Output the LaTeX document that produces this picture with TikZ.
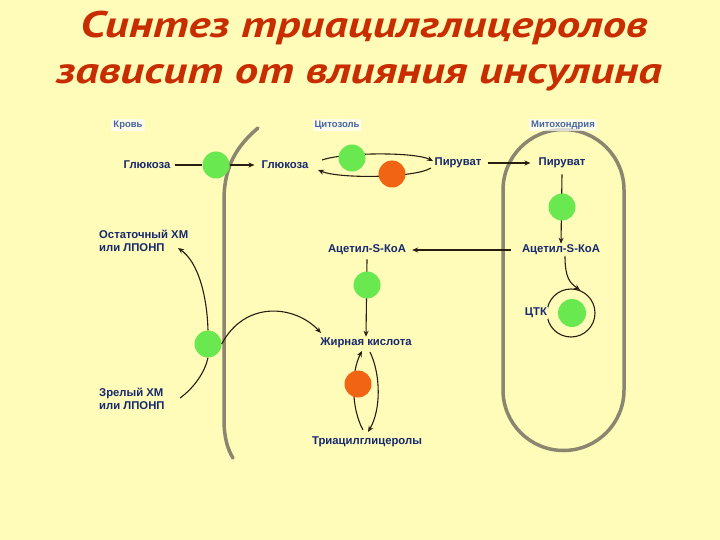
\documentclass[tikz,border=0pt]{standalone}
\usepackage{fontspec}
\setmainfont{Liberation Sans}
\newfontfamily\titlefont{PT Sans}
\usetikzlibrary{arrows.meta}
\definecolor{bg}{RGB}{255,251,184}
\definecolor{titlered}{RGB}{200,45,0}
\definecolor{navy}{RGB}{22,40,110}
\definecolor{lblue}{RGB}{70,100,160}
\definecolor{gcirc}{RGB}{105,232,80}
\definecolor{ocirc}{RGB}{240,100,20}
\definecolor{memb}{RGB}{138,134,112}
\definecolor{arrc}{RGB}{40,30,15}
\begin{document}
\begin{tikzpicture}[x=1pt,y=-1pt,
  txt/.style={font=\fontsize{11.3}{12.5}\selectfont\bfseries, text=navy, inner sep=1pt},
  lbl/.style={font=\fontsize{9.5}{10}\selectfont\bfseries, text=lblue, fill=white, fill opacity=0.7, text opacity=1, inner sep=2pt},
  gdot/.style={circle, fill=gcirc, minimum size=27pt, inner sep=0pt},
  odot/.style={circle, fill=ocirc, minimum size=27pt, inner sep=0pt},
  arr/.style={draw=arrc, line width=1.1pt, -{Stealth[length=6pt,width=5pt]}},
  ln/.style={draw=arrc, line width=1.1pt},
  mem/.style={draw=memb, line width=3.5pt, line cap=round},
  ttl/.style={font=\titlefont\fontsize{37}{44}\selectfont\bfseries\itshape, inner sep=0pt, anchor=base, xscale=1.26, text=titlered}]
\fill[bg] (0,0) rectangle (720,540);
\useasboundingbox (0,0) rectangle (720,540);
% title
\node[ttl] (t1) at (364,38) {Синтез триацилглицеролов};
\node[ttl] (t2) at (359,84) {зависит от влияния инсулина};
% membranes
\draw[mem] (258,128) .. controls (238,145) and (224,165) .. (224,200) -- (224,420) .. controls (224,438) and (228,450) .. (233,458);
\draw[mem] (503,390) -- (503,190) arc (180:360:60.5) -- (624,390) arc (0:180:60.5) -- cycle;
% compartment labels
\node[lbl] (kr) at (128,125) {Кровь};
\node[lbl] (cy) at (337,125) {Цитозоль};
\node[lbl] (mi) at (563,125) {Митохондрия};
% texts
\node[txt] (glcB) at (147,165) {Глюкоза};
\node[txt] (glcC) at (285,165) {Глюкоза};
\node[txt] (pyrC) at (458,163) {Пируват};
\node[txt] (pyrM) at (562,163) {Пируват};
\node[txt] (acM) at (561,250) {Ацетил-S-КоА};
\node[txt] (acC) at (367,250) {Ацетил-S-КоА};
\node[txt] (fa) at (366,343) {Жирная кислота};
\node[txt] (tag) at (367,442) {Триацилглицеролы};
\node[txt, anchor=west, align=left] (rem) at (98,241) {Остаточный ХМ\\или ЛПОНП};
\node[txt, anchor=west, align=left] (mat) at (98,399) {Зрелый ХМ\\или ЛПОНП};
% transport of glucose
\node[gdot] (g1) at (216,165) {};
\draw[ln] (glcB.east) ++(3,0) -- (g1.west);
\draw[arr] (g1.east) -- ([xshift=-6pt]glcC.west);
% glycolysis / gluconeogenesis
\coordinate (u1) at (322,160);
\coordinate (u2) at (433,161);
\coordinate (l1) at (431,168);
\coordinate (l2) at (318,170);
\draw[arr] (u1) .. controls (345,152) and (415,152) .. (u2);
\draw[arr] (l1) .. controls (415,178) and (340,179) .. (l2);
\node[gdot] (g2) at (352,158) {};
\node[odot] (o1) at (392,174) {};
% pyruvate transport
\draw[arr] (pyrC.east) ++(5,0) -- ([xshift=-7pt]pyrM.west);
% PDH
\draw[arr] ([yshift=-5pt]pyrM.south) -- (acM.north);
\node[gdot] (g3) at (562,207) {};
% acetyl-CoA export
\draw[arr] ([xshift=-10pt]acM.west) -- ([xshift=5pt]acC.east);
% acetyl-CoA to fatty acid
\draw[arr] ([yshift=-3pt]acC.south) -- (fa.north);
\node[gdot] (g4) at (367,285) {};
% fatty acid <-> TAG
\coordinate (fl) at (362,351);
\coordinate (fr) at (370,352);
\coordinate (tl) at (363,430);
\coordinate (tr) at (368,432);
\draw[arr] (tl) .. controls (351,408) and (351,372) .. (fl);
\draw[arr] (fr) .. controls (381,375) and (381,410) .. (tr);
\node[odot] (o2) at (358,384) {};
% TCA
\node[gdot, minimum size=28pt] (g6) at (572,313) {};
\draw[ln] (571,313) circle (24);
\node[txt, fill=bg, inner sep=1pt] (ctk) at (536,313) {ЦТК};
\coordinate (ck) at (580,290);
\draw[arr] ([xshift=4pt]acM.south) .. controls (565,278) and (570,283) .. (ck);
% lipoprotein lipase
\node[gdot] (g5) at (208,344) {};
\coordinate (re) at (178,248);
\draw[arr] (g5.north) .. controls (207,295) and (198,262) .. (re);
\coordinate (me) at (180,398);
\draw[ln] (me) .. controls (194,388) and (205,372) .. (g5.south);
\coordinate (fe) at (321,333);
\draw[arr] (g5.east) .. controls (245,300) and (295,305) .. (fe);
\end{tikzpicture}
\end{document}
